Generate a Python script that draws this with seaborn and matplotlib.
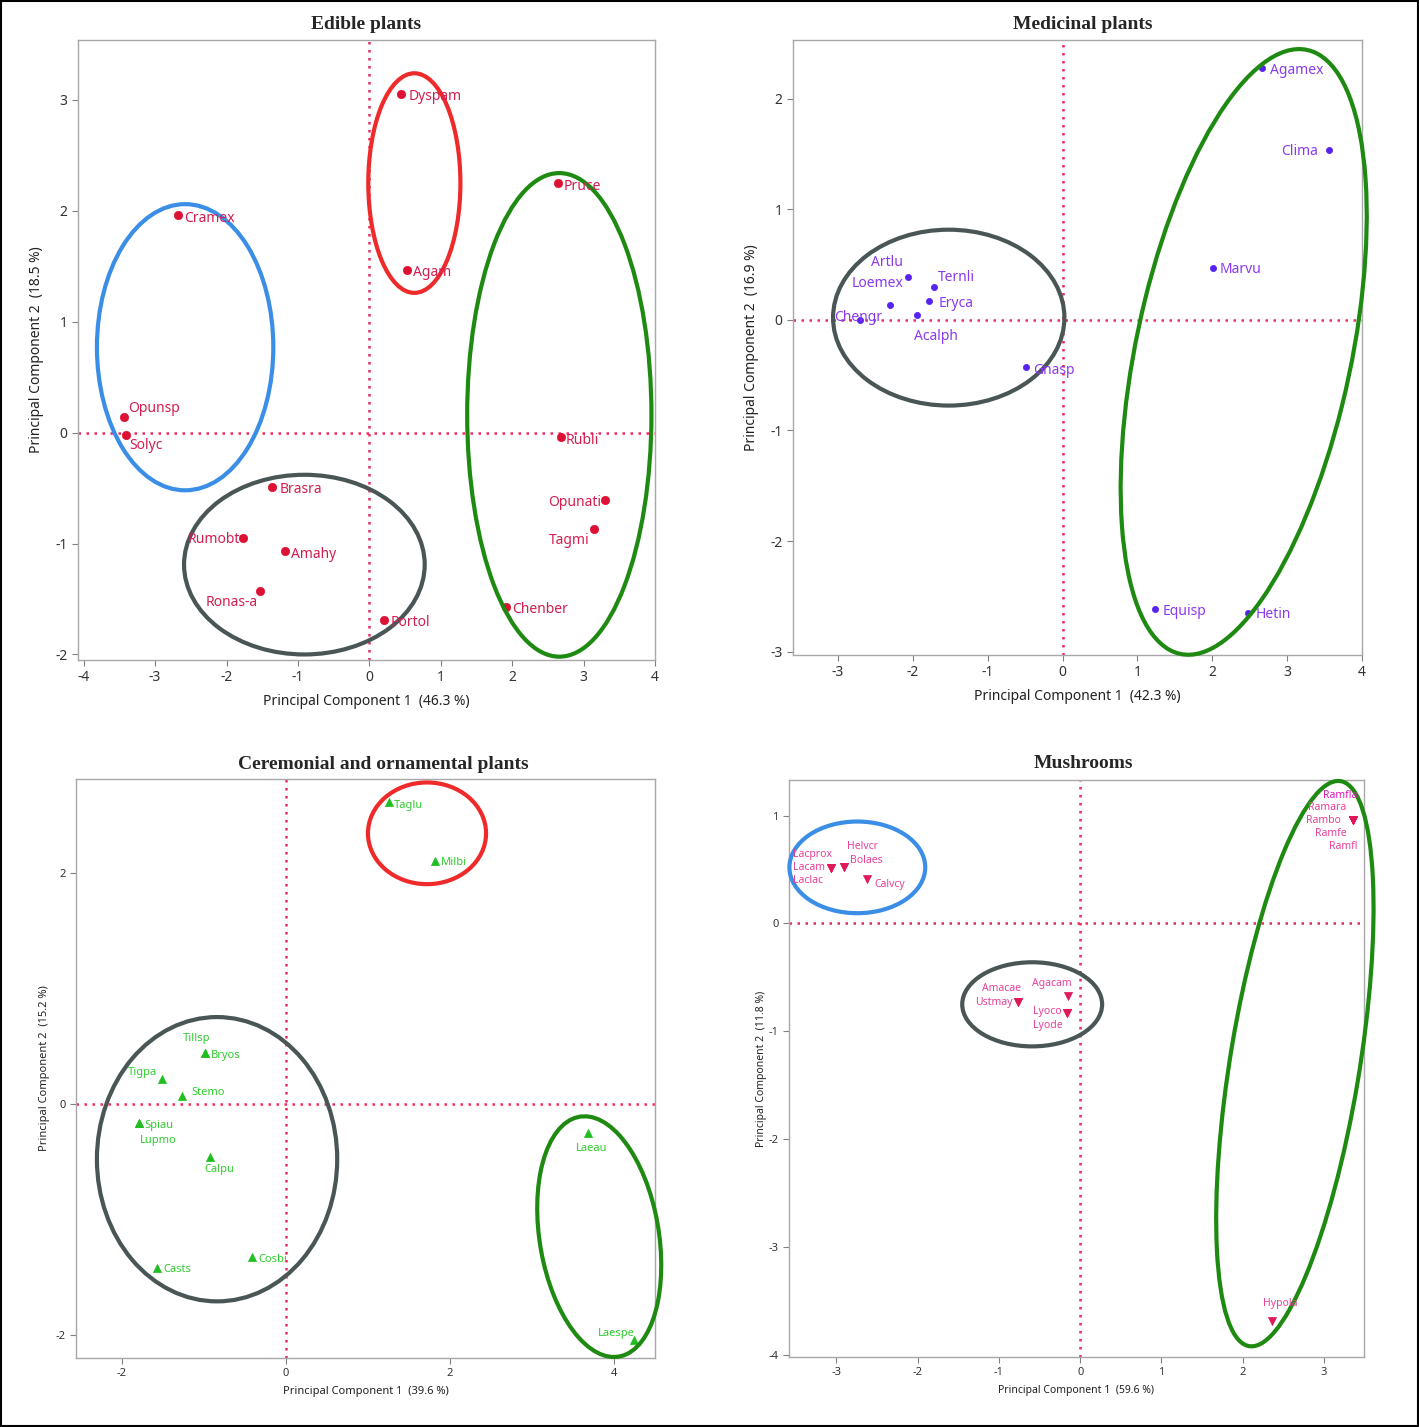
import numpy as np
import pandas as pd
import seaborn as sns
import matplotlib
matplotlib.use("Agg")
import matplotlib.pyplot as plt
from matplotlib.patches import Ellipse, Rectangle

sns.set_style("white")
plt.rcParams['font.family'] = ['Noto Sans', 'DejaVu Sans']
plt.rcParams['axes.unicode_minus'] = False

# ---------------- DATA ----------------
# Edible plants
ed_names = ["Dyspam", "Pruce", "Cramex", "Agam", "Opunsp", "Solyc", "Rubli", "Brasra",
            "Opunati", "Tagmi", "Rumobt", "Amahy", "Ronas-a", "Chenber", "Portol"]
ed_pc1 = [0.45, 2.64, -2.68, 0.53, -3.44, -3.41, 2.68, -1.36, 3.30, 3.14, -1.77, -1.18, -1.53, 1.92, 0.20]
ed_pc2 = [3.05, 2.25, 1.96, 1.47, 0.14, -0.02, -0.04, -0.49, -0.61, -0.87, -0.95, -1.07, -1.43, -1.57, -1.69]
ed_var = (46.3, 18.5)

# Medicinal plants
md_names = ["Agamex", "Clima", "Marvu", "Artlu", "Loemex", "Ternli", "Eryca", "Acalph",
            "Chengr", "Gnasp", "Equisp", "Hetin"]
md_pc1 = [2.67, 3.56, 2.01, -2.07, -2.31, -1.72, -1.79, -1.95, -2.70, -0.49, 1.24, 2.48]
md_pc2 = [2.28, 1.54, 0.47, 0.39, 0.13, 0.30, 0.17, 0.04, 0.00, -0.43, -2.61, -2.65]
md_var = (42.3, 16.9)

# Ceremonial and ornamental plants
ce_names = ["Taglu", "Milbi", "Tillsp", "Bryos", "Tigpa", "Stemo", "Spiau", "Lupmo",
            "Calpu", "Casts", "Cosbi", "Laeau", "Laespe"]
ce_pc1 = [1.26, 1.82, -0.99, -0.99, -1.51, -1.27, -1.79, -1.79, -0.93, -1.57, -0.41, 3.68, 4.24]
ce_pc2 = [2.61, 2.10, 0.44, 0.44, 0.21, 0.07, -0.17, -0.17, -0.46, -1.42, -1.33, -0.25, -2.04]
ce_var = (39.6, 15.2)

# Mushrooms
mu_names = ["Ramfla", "Ramara", "Rambo", "Ramfe", "Ramfl", "Lacprox", "Lacam", "Laclac",
            "Helvcr", "Bolaes", "Calvcy", "Amacae", "Ustmay", "Agacam", "Lyoco", "Lyode", "Hypola"]
mu_pc1 = [3.36, 3.36, 3.36, 3.36, 3.36, -3.06, -3.06, -3.06, -2.90, -2.90, -2.62,
          -0.76, -0.76, -0.15, -0.16, -0.16, 2.36]
mu_pc2 = [0.96, 0.96, 0.96, 0.96, 0.96, 0.51, 0.51, 0.51, 0.52, 0.52, 0.41,
          -0.73, -0.73, -0.67, -0.83, -0.83, -3.69]
mu_var = (59.6, 11.8)

# Cluster ellipses: (center x, center y, width, height, angle, colour)
BLUE, RED, GREEN, GREY = "#3a8ee6", "#ee2a2a", "#1f8a12", "#4a5656"
ed_ell = [(-2.58, 0.77, 2.47, 2.58, 0, BLUE), (0.63, 2.25, 1.29, 1.98, 0, RED),
          (2.66, 0.16, 2.58, 4.36, 0, GREEN), (-0.91, -1.19, 3.37, 1.62, 0, GREY)]
md_ell = [(-1.52, 0.02, 3.09, 1.59, 0, GREY), (2.42, -0.29, 2.8, 5.74, -20.1, GREEN)]
ce_ell = [(1.72, 2.34, 1.44, 0.88, 0, RED), (-0.84, -0.48, 2.93, 2.46, 0, GREY),
          (3.82, -1.15, 1.43, 2.14, 18, GREEN)]
mu_ell = [(-2.74, 0.52, 1.67, 0.85, 0, BLUE), (-0.59, -0.75, 1.72, 0.78, 0, GREY),
          (2.64, -1.30, 1.58, 5.36, -12.6, GREEN)]

# Label placement (offset pixels dx, dy, horizontal alignment)
ed_lab = [(7, -2, 'left'), (6, -3, 'left'), (6, -3, 'left'), (6, -3, 'left'), (4, 9, 'left'),
          (3, -11, 'left'), (5, -3, 'left'), (7, -3, 'left'), (-4, -2, 'right'), (-4, -11, 'right'),
          (-3, -2, 'right'), (6, -3, 'left'), (-2, -11, 'right'), (6, -3, 'left'), (7, -2, 'left')]
md_lab = [(8, -3, 'left'), (-11, -2, 'right'), (7, -2, 'left'), (-5, 14, 'right'), (-12, 22, 'center'),
          (4, 9, 'left'), (10, -2, 'left'), (19, -21, 'center'), (-2, 2, 'center'), (7, -3, 'left'),
          (7, -3, 'left'), (7, -2, 'left')]
ce_lab = [(5, -3, 'left'), (6, -1, 'left'), (-8, 14, 'center'), (6, -3, 'left'), (-5, 7, 'right'),
          (10, 3, 'left'), (5, -2, 'left'), (1, -17, 'left'), (10, -13, 'center'), (6, -2, 'left'),
          (6, -2, 'left'), (4, -16, 'center'), (1, 6, 'right')]
mu_lab = [(4, 24, 'right'), (-7, 12, 'right'), (-13, -1, 'right'), (-7, -14, 'right'), (4, -27, 'right'),
          (-38, 14, 'left'), (-38, 1, 'left'), (-38, -12, 'left'), (3, 21, 'left'), (6, 7, 'left'),
          (7, -5, 'left'), (3, 14, 'right'), (-6, 0, 'right'), (4, 12, 'right'), (-34, 1, 'left'),
          (-34, -13, 'left'), (-9, 18, 'left')]

# ---------------- FIGURE ----------------
fig = plt.figure(figsize=(14.19, 14.27), dpi=100)
fig.patches.append(Rectangle((0.001, 0.001), 0.998, 0.998, transform=fig.transFigure,
                             fill=False, edgecolor='black', lw=1.5))

REF = "#ee2a5e"

def panel(rect, title, names, pc1, pc2, var, ells, labs, xlim, ylim, xt, yt,
          marker, mcolor, lcolor, msize, lfs, tfs, afs, tpad, ylpad, xlpad, tx=0.5, special=None):
    ax = fig.add_axes(rect)
    df = pd.DataFrame({"PC1": pc1, "PC2": pc2, "name": names})
    ax.axvline(0, color=REF, ls=(0, (1, 2.2)), lw=1.8, zorder=1)
    ax.axhline(0, color=REF, ls=(0, (1, 2.2)), lw=1.8, zorder=1)
    sns.scatterplot(data=df, x="PC1", y="PC2", ax=ax, marker=marker, color=mcolor,
                    s=msize, edgecolor=mcolor, linewidth=0.5, zorder=3, legend=False)
    for (cx, cy, w, h, a, c) in ells:
        ax.add_patch(Ellipse((cx, cy), w, h, angle=a, fill=False, edgecolor=c, lw=3.0,
                             zorder=4, clip_on=False))
    for i, (n, x, y) in enumerate(zip(names, pc1, pc2)):
        dx, dy, ha = labs[i]
        col, fw = lcolor, 'normal'
        if special and n in special:
            col, fw = special[n], 'bold'
        ax.annotate(n, (x, y), xytext=(dx, dy), textcoords='offset pixels', ha=ha, va='center',
                    fontsize=lfs, color=col, fontweight=fw, zorder=5)
    ax.set_xlim(*xlim)
    ax.set_ylim(*ylim)
    ax.set_xticks(xt)
    ax.set_yticks(yt)
    ax.tick_params(axis='both', which='major', direction='out', length=4, width=0.8,
                   color='#808080', labelsize=tfs, bottom=True, left=True, colors='#333333')
    for s in ax.spines.values():
        s.set_color('#a8a8a8')
        s.set_linewidth(1.0)
    ax.set_xlabel(f"Principal Component 1  ({var[0]} %)", fontsize=afs, color='#222222', labelpad=xlpad)
    ax.set_ylabel(f"Principal Component 2  ({var[1]} %)", fontsize=afs, color='#222222', labelpad=ylpad)
    ax.set_title(title, fontsize=14, fontweight='bold', family='Liberation Serif', pad=tpad, x=tx)
    return ax

W, H = 1419, 1427
def r(l, t, rr, b):
    return [l / W, 1 - b / H, (rr - l) / W, (b - t) / H]

panel(r(78, 40, 655, 660), "Edible plants", ed_names, ed_pc1, ed_pc2, ed_var, ed_ell, ed_lab,
      (-4.08, 4.0), (-2.05, 3.54), range(-4, 5), range(-2, 4),
      'o', "#dd1133", "#d41e50", 36, 10, 10, 10, 8, 8, 6)

panel(r(793, 40, 1362, 655), "Medicinal plants", md_names, md_pc1, md_pc2, md_var, md_ell, md_lab,
      (-3.6, 4.0), (-3.03, 2.53), range(-3, 5), range(-3, 3),
      'o', "#5522ee", "#8a3aee", 20, 10, 10, 10, 8, 8, 6, tx=0.51)

panel(r(76, 779, 655, 1358), "Ceremonial and ornamental plants", ce_names, ce_pc1, ce_pc2, ce_var,
      ce_ell, ce_lab, (-2.56, 4.5), (-2.2, 2.81), [-2, 0, 2, 4], [-2, 0, 2],
      '^', "#1fbf1f", "#2fcc2f", 34, 8, 8, 8, 7, 4, 5, tx=0.53)

panel(r(789, 780, 1364, 1357), "Mushrooms", mu_names, mu_pc1, mu_pc2, mu_var, mu_ell, mu_lab,
      (-3.58, 3.49), (-4.02, 1.33), range(-3, 4), range(-4, 2),
      'v', "#e0185a", "#e8409a", 34, 7.5, 8, 7.5, 9, 1, 5, tx=0.512, special={"Ramfla": "#e018b8"})

fig.savefig("out.png", dpi=100)
